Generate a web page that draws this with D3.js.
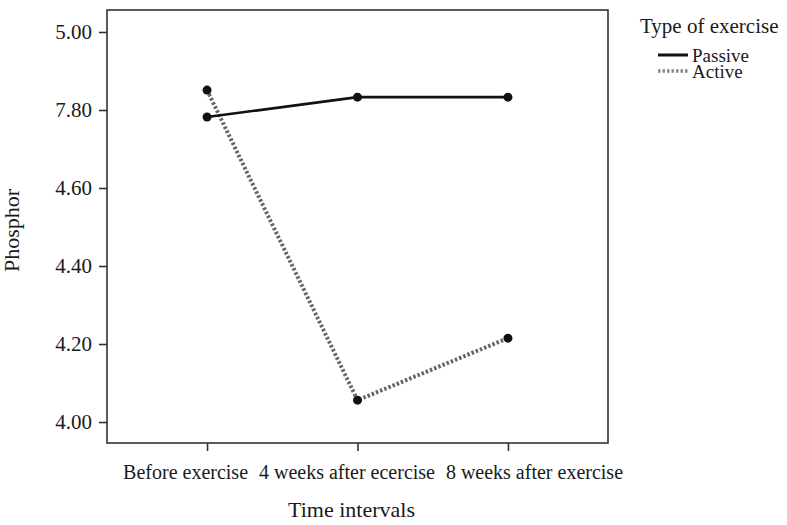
<!DOCTYPE html>
<html>
<head>
<meta charset="utf-8">
<script src="https://cdn.jsdelivr.net/npm/d3@7"></script>
<style>
  body { margin: 0; background: #fff; }
  svg { font-family: "Liberation Serif", "DejaVu Serif", serif; }
</style>
</head>
<body>
<div id="chart"></div>
<script>
// data
const timePoints = ["Before exercise", "4 weeks after ecercise", "8 weeks after exercise"];
const passive = [4.782, 4.833, 4.833];
const active = [4.851, 4.056, 4.215];
const yTicks = [4.0, 4.2, 4.4, 4.6, 4.8, 5.0];
const yTickLabels = ["4.00", "4.20", "4.40", "4.60", "7.80", "5.00"];
const seriesNames = ["Passive", "Active"];

const width = 787;
const height = 525;
const box = { left: 107, top: 10, right: 608, bottom: 443 };

const svg = d3.select("#chart")
  .append("svg")
  .attr("width", width)
  .attr("height", height);

const x = d3.scalePoint()
  .domain(timePoints)
  .range([box.left, box.right])
  .padding(0.665);

const y = d3.scaleLinear()
  .domain([3.9462, 5.0564])
  .range([box.bottom, box.top]);

// frame
svg.append("rect")
  .attr("x", box.left)
  .attr("y", box.top)
  .attr("width", box.right - box.left)
  .attr("height", box.bottom - box.top)
  .attr("fill", "none")
  .attr("stroke", "#333")
  .attr("stroke-width", 1.6);

// y axis
const yAxis = svg.append("g")
  .attr("transform", `translate(${box.left},0)`)
  .call(d3.axisLeft(y)
    .tickValues(yTicks)
    .tickSize(8)
    .tickPadding(7)
    .tickFormat((d, i) => yTickLabels[i]));
yAxis.select(".domain").remove();
yAxis.selectAll("line").attr("stroke", "#333").attr("stroke-width", 1.6);
yAxis.selectAll("text")
  .attr("font-size", 21)
  .attr("font-family", "Liberation Serif, serif")
  .attr("fill", "#1a1a1a");

// x axis, labels nudged like the original to keep them apart
const xOffsets = [-22, -11, 26];
const xAxis = svg.append("g")
  .attr("transform", `translate(0,${box.bottom})`)
  .call(d3.axisBottom(x).tickSize(8).tickPadding(14));
xAxis.select(".domain").remove();
xAxis.selectAll("line").attr("stroke", "#333").attr("stroke-width", 1.6);
xAxis.selectAll("text")
  .attr("font-size", 20)
  .attr("font-family", "Liberation Serif, serif")
  .attr("fill", "#1a1a1a")
  .attr("dx", (d, i) => xOffsets[i]);

// axis titles
svg.append("text")
  .attr("x", (box.left + box.right) / 2 - 6)
  .attr("y", 517)
  .attr("text-anchor", "middle")
  .attr("font-size", 22)
  .attr("fill", "#1a1a1a")
  .text("Time intervals");

svg.append("text")
  .attr("transform", `translate(19,${(box.top + box.bottom) / 2 + 4}) rotate(-90)`)
  .attr("text-anchor", "middle")
  .attr("font-size", 22)
  .attr("fill", "#1a1a1a")
  .text("Phosphor");

// lines
const line = d3.line()
  .x((d, i) => x(timePoints[i]))
  .y(d => y(d));

svg.append("path")
  .datum(active)
  .attr("d", line)
  .attr("fill", "none")
  .attr("stroke", "#666")
  .attr("stroke-width", 4)
  .attr("stroke-dasharray", "2.5,2");

svg.append("path")
  .datum(passive)
  .attr("d", line)
  .attr("fill", "none")
  .attr("stroke", "#111")
  .attr("stroke-width", 2.6);

[passive, active].forEach(series => {
  svg.append("g")
    .selectAll("circle")
    .data(series)
    .join("circle")
    .attr("cx", (d, i) => x(timePoints[i]))
    .attr("cy", d => y(d))
    .attr("r", 4.5)
    .attr("fill", "#111");
});

// legend
const legend = svg.append("g")
  .attr("transform", "translate(640,0)");

legend.append("text")
  .attr("x", 0)
  .attr("y", 33)
  .attr("font-size", 21)
  .attr("fill", "#1a1a1a")
  .text("Type of exercise");

const legendItem = legend.selectAll("g.item")
  .data(seriesNames)
  .join("g")
  .attr("class", "item")
  .attr("transform", (d, i) => `translate(0,${55 + i * 16})`);

legendItem.append("line")
  .attr("x1", 18)
  .attr("x2", 48)
  .attr("y1", 0)
  .attr("y2", 0)
  .attr("stroke", (d, i) => i === 0 ? "#111" : "#888")
  .attr("stroke-width", (d, i) => i === 0 ? 3 : 3.5)
  .attr("stroke-dasharray", (d, i) => i === 0 ? null : "2.5,2");

legendItem.append("text")
  .attr("x", 52)
  .attr("y", 7)
  .attr("font-size", 19)
  .attr("fill", "#1a1a1a")
  .text(d => d);
</script>
</body>
</html>
